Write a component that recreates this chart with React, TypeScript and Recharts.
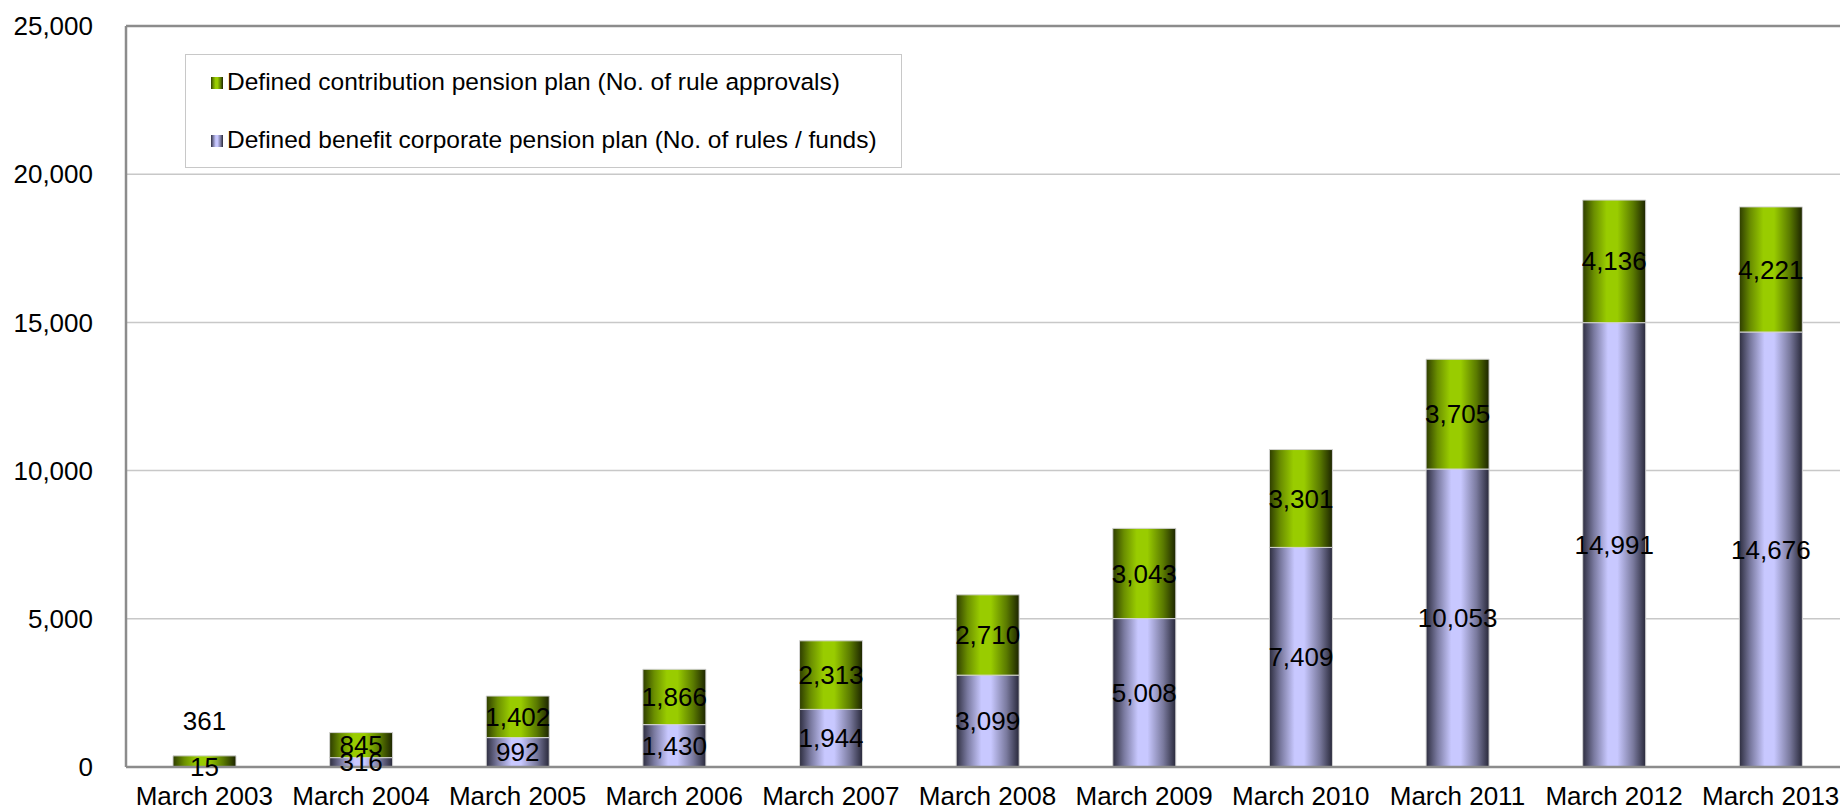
import React from 'react';
import {
  BarChart,
  Bar,
  XAxis,
  YAxis,
  CartesianGrid,
  Legend,
  LabelList,
  ReferenceLine,
} from 'recharts';

const years = [
  'March 2003',
  'March 2004',
  'March 2005',
  'March 2006',
  'March 2007',
  'March 2008',
  'March 2009',
  'March 2010',
  'March 2011',
  'March 2012',
  'March 2013',
];

// Defined benefit corporate pension plan (No. of rules / funds)
const benefitPlans = [15, 316, 992, 1430, 1944, 3099, 5008, 7409, 10053, 14991, 14676];

// Defined contribution pension plan (No. of rule approvals)
const contributionPlans = [361, 845, 1402, 1866, 2313, 2710, 3043, 3301, 3705, 4136, 4221];

const yTicks = [0, 5000, 10000, 15000, 20000, 25000];

const data = years.map((year, i) => ({
  year,
  benefit: benefitPlans[i],
  contribution: contributionPlans[i],
}));

const FONT = 'Arial, "Liberation Sans", Helvetica, sans-serif';
const AXIS_GREY = '#8c8c8c';

const fmt = (v: number) => Number(v).toLocaleString('en-US');

const GREEN_CSS =
  'linear-gradient(to right, #2e3d00 0%, #6b8f00 18%, #99cc00 38%, #99cc00 55%, #5a7a00 80%, #1c2400 100%)';
const PURPLE_CSS =
  'linear-gradient(to right, #2e2e40 0%, #7a7aa0 18%, #c8c8ff 40%, #c8c8ff 55%, #7a7a9e 80%, #28283a 100%)';

// segment label, centred; thin segments get it lifted above the bar
const SegmentLabel = (lift: boolean) => (props: any) => {
  const vb = props.viewBox || {};
  const x = props.x ?? vb.x;
  const y = props.y ?? vb.y;
  const width = props.width ?? vb.width;
  const height = props.height ?? vb.height;
  if (x == null || y == null) return null;
  const cx = x + width / 2;
  let cy = y + height / 2;
  if (lift && Math.abs(height) < 20) cy = y - 35;
  return (
    <text
      x={cx}
      y={cy}
      dy="0.35em"
      textAnchor="middle"
      fontSize={26}
      fontFamily={FONT}
      fill="#000"
    >
      {fmt(props.value)}
    </text>
  );
};

const LegendBox = () => {
  const row = (top: number, bg: string, label: string) => (
    <div
      style={{
        position: 'absolute',
        left: 0,
        top,
        height: 30,
        lineHeight: '30px',
        whiteSpace: 'nowrap',
      }}
    >
      <span
        style={{
          position: 'absolute',
          left: 25,
          top: 10,
          width: 12,
          height: 12,
          background: bg,
        }}
      />
      <span style={{ position: 'absolute', left: 41, top: 0 }}>{label}</span>
    </div>
  );
  return (
    <div
      style={{
        position: 'relative',
        width: 717,
        height: 114,
        boxSizing: 'border-box',
        border: '1.5px solid #c8c8c8',
        background: '#fff',
        fontFamily: FONT,
        fontSize: 24.5,
        color: '#000',
      }}
    >
      {row(12, GREEN_CSS, 'Defined contribution pension plan (No. of rule approvals)')}
      {row(70, PURPLE_CSS, 'Defined benefit corporate pension plan (No. of rules / funds)')}
    </div>
  );
};

export default function App() {
  return (
    <div
      style={{
        position: 'absolute',
        left: 0,
        top: 0,
        width: 1840,
        height: 810,
        overflow: 'hidden',
        background: '#fff',
      }}
    >
      <BarChart
        width={1852}
        height={810}
        data={data}
        margin={{ top: 26, right: 3, bottom: 0, left: 0 }}
        barCategoryGap="30%"
      >
        <defs>
          <linearGradient id="greenBar" x1="0" y1="0" x2="1" y2="0">
            <stop offset="0%" stopColor="#2e3d00" />
            <stop offset="18%" stopColor="#6b8f00" />
            <stop offset="38%" stopColor="#99cc00" />
            <stop offset="55%" stopColor="#99cc00" />
            <stop offset="80%" stopColor="#5a7a00" />
            <stop offset="100%" stopColor="#1c2400" />
          </linearGradient>
          <linearGradient id="purpleBar" x1="0" y1="0" x2="1" y2="0">
            <stop offset="0%" stopColor="#2e2e40" />
            <stop offset="18%" stopColor="#7a7aa0" />
            <stop offset="40%" stopColor="#c8c8ff" />
            <stop offset="55%" stopColor="#c8c8ff" />
            <stop offset="80%" stopColor="#7a7a9e" />
            <stop offset="100%" stopColor="#28283a" />
          </linearGradient>
        </defs>
        <CartesianGrid vertical={false} stroke="#c8c8c8" strokeWidth={1.5} />
        <XAxis
          dataKey="year"
          interval={0}
          tickLine={false}
          tickSize={0}
          tickMargin={20}
          height={43}
          axisLine={{ stroke: AXIS_GREY, strokeWidth: 2.5 }}
          tick={{ fontSize: 26, fill: '#000', fontFamily: FONT }}
        />
        <YAxis
          type="number"
          domain={[0, 25000]}
          ticks={yTicks}
          interval={0}
          width={126}
          tickLine={false}
          tickSize={0}
          tickMargin={33}
          tickFormatter={fmt}
          axisLine={{ stroke: AXIS_GREY, strokeWidth: 2.5 }}
          tick={{ fontSize: 26, fill: '#000', fontFamily: FONT }}
        />
        <ReferenceLine y={25000} stroke={AXIS_GREY} strokeWidth={2.5} />
        <Legend
          layout="vertical"
          align="center"
          verticalAlign="middle"
          content={() => <LegendBox />}
          wrapperStyle={{ position: 'absolute', left: 185, top: 54, width: 717, height: 114 }}
        />
        <Bar
          dataKey="benefit"
          stackId="plans"
          fill="url(#purpleBar)"
          stroke="#d4d4d4"
          strokeWidth={1}
          isAnimationActive={false}
        >
          <LabelList dataKey="benefit" content={SegmentLabel(false)} />
        </Bar>
        <Bar
          dataKey="contribution"
          stackId="plans"
          fill="url(#greenBar)"
          stroke="#d4d4d4"
          strokeWidth={1}
          isAnimationActive={false}
        >
          <LabelList dataKey="contribution" content={SegmentLabel(true)} />
        </Bar>
      </BarChart>
    </div>
  );
}
